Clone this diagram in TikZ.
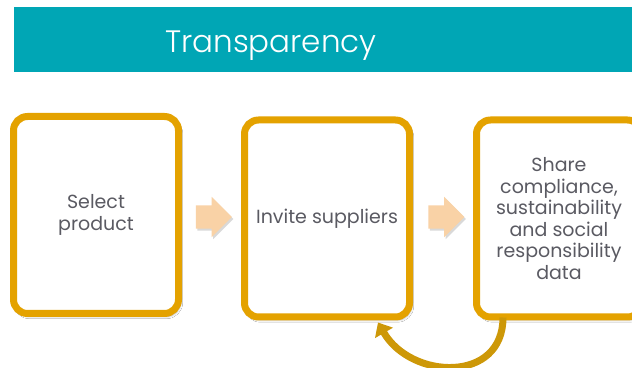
\documentclass[tikz,border=0pt]{standalone}
\usepackage{fontspec}
\setmainfont{Poppins}
\newfontfamily\titlefont{Poppins Light}
\usetikzlibrary{arrows.meta,positioning,shapes.arrows,shadows,shadows.blur}

\definecolor{barteal}{RGB}{0,166,181}
\definecolor{stepgold}{RGB}{228,162,0}
\definecolor{arrowpeach}{RGB}{249,210,166}
\definecolor{loopgold}{RGB}{205,152,8}
\definecolor{boxtext}{RGB}{90,90,98}

\begin{document}
\begin{tikzpicture}[x=1pt,y=1pt,>=Stealth,
 stepbox/.style={draw=stepgold,line width=7pt,rounded corners=14pt,fill=white,
  minimum width=165pt,minimum height=197pt,align=center,text=boxtext,
  font=\fontsize{19}{21.5}\selectfont,
  blur shadow={shadow xshift=2pt,shadow yshift=-3pt,shadow blur steps=6,shadow opacity=30}},
 flow/.style={single arrow,fill=arrowpeach,minimum height=36pt,
  inner xsep=0pt,inner ysep=11.5pt,text height=0pt,text depth=0pt,
  single arrow head extend=8.5pt,single arrow head indent=0pt,
  drop shadow={shadow xshift=1.5pt,shadow yshift=-2pt,opacity=0.15,fill=black}}]
\clip (0,0) rectangle (632,367);
\fill[white] (0,0) rectangle (632,367);

% title bar
\fill[barteal] (14,295) rectangle (640,360);
\node[anchor=base,text=white,font=\titlefont\fontsize{31}{36}\selectfont] (title) at (271,314) {Transparency};

% three steps
\node[stepbox] (select) at (96,152) {Select\\product};
\node[stepbox] (invite) at (327,148.5) {Invite suppliers};
\node[stepbox] (share) at (559,148.5) {Share\\compliance,\\sustainability\\and social\\responsibility\\data};

\node[flow] (go1) at (208,150) {};
\node[flow] (go2) at (440.5,150) {};

% loop back from sharing to inviting
\draw[loopgold,line width=7pt,-{Triangle[width=20pt,length=12pt]}]
 ([xshift=30pt,yshift=3pt]share.south west) to[out=-90,in=-60,looseness=1.35]
 ([xshift=-35pt,yshift=-2pt]invite.south east);
\end{tikzpicture}
\end{document}
